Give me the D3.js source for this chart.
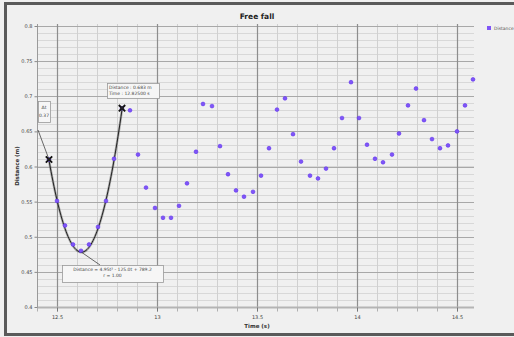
<!DOCTYPE html>
<html><head><meta charset="utf-8">
<script src="https://cdn.jsdelivr.net/npm/d3@7"></script>
<style>html,body{margin:0;padding:0;background:#f0f0f0;}svg{display:block;}</style>
</head><body>
<svg id="c" width="514" height="337"></svg>
<script>
const times = [12.46,12.50,12.54,12.58,12.62,12.66,12.705,12.745,12.785,12.825,12.865,12.905,12.945,12.99,13.03,13.07,13.11,13.15,13.195,13.23,13.275,13.315,13.355,13.395,13.435,13.48,13.52,13.56,13.60,13.64,13.68,13.72,13.765,13.805,13.845,13.885,13.925,13.97,14.01,14.05,14.09,14.13,14.175,14.21,14.255,14.295,14.335,14.375,14.415,14.455,14.50,14.54,14.58];
const distances = [0.610,0.551,0.516,0.489,0.480,0.489,0.514,0.551,0.611,0.683,0.680,0.617,0.570,0.541,0.527,0.527,0.544,0.576,0.621,0.689,0.686,0.629,0.589,0.566,0.557,0.564,0.587,0.626,0.681,0.697,0.646,0.607,0.587,0.583,0.597,0.626,0.669,0.720,0.669,0.631,0.611,0.606,0.617,0.647,0.687,0.711,0.666,0.639,0.626,0.630,0.650,0.687,0.724];
const xTickValues = [12.5,13,13.5,14,14.5];
const xTickLabels = ["12.5","13","13.5","14","14.5"];
const yTickValues = [0.4,0.45,0.5,0.55,0.6,0.65,0.7,0.75,0.8];
const yTickLabels = ["0.4","0.45","0.5","0.55","0.6","0.65","0.7","0.75","0.8"];
const fitVertex = [12.6225, 0.478];
const fitA = [4.95];
const fitRange = [12.46, 12.825];
const fitText = ["Distance = 4.95t² - 125.0t + 789.2", "r = 1.00"];
const readoutText = ["Distance : 0.683 m", "Time : 12.82500 s"];
const deltaText = ["Δt", "0.37"];

const svg = d3.select("#c");
const L=37,R=474,T=26,B=307;
const x = d3.scaleLinear().domain([12.4,14.585]).range([L,R]);
const y = d3.scaleLinear().domain([0.4,0.8]).range([B,T]);

svg.append("rect").attr("x",0).attr("y",0).attr("width",514).attr("height",337).attr("fill","#f0f0f0");
svg.append("path").attr("d","M514,3.5 L5.5,3.5 L5.5,334.5 L514,334.5").attr("fill","none").attr("stroke","#5a5a5a").attr("stroke-width",3);

const g = svg.append("g");
const yMinor = d3.range(0.4,0.8001,0.01);
g.selectAll(".ym").data(yMinor).join("line").attr("x1",L).attr("x2",R).attr("y1",d=>Math.round(y(d))+0.5).attr("y2",d=>Math.round(y(d))+0.5).attr("stroke","#d8d8d8").attr("stroke-width",1);
const xMinor = d3.range(12.4,14.5801,0.1);
g.selectAll(".xm").data(xMinor).join("line").attr("y1",T-2).attr("y2",B).attr("x1",d=>Math.round(x(d))+0.5).attr("x2",d=>Math.round(x(d))+0.5).attr("stroke","#d0d0d0").attr("stroke-width",1);
g.selectAll(".yM").data(yTickValues).join("line").attr("x1",L).attr("x2",R).attr("y1",d=>Math.round(y(d))+0.5).attr("y2",d=>Math.round(y(d))+0.5).attr("stroke","#a8a8a8").attr("stroke-width",1);
g.selectAll(".xM").data(xTickValues).join("line").attr("y1",T-2).attr("y2",B).attr("x1",d=>Math.round(x(d))+0.5).attr("x2",d=>Math.round(x(d))+0.5).attr("stroke","#8e8e8e").attr("stroke-width",1.2);

const xAxis = d3.axisBottom(x).tickValues(xMinor).tickSize(4).tickFormat("");
svg.append("g").attr("transform",`translate(0,${B+0.5})`).call(xAxis).call(s=>{s.select(".domain").attr("stroke","#b4b4b4").attr("stroke-width",2).attr("d",`M${L},0H${R}`);s.selectAll(".tick line").attr("stroke","#b0b0b0");});
svg.append("g").attr("transform",`translate(0,${B+0.5})`).call(d3.axisBottom(x).tickValues(xTickValues).tickSize(4).tickFormat((d,i)=>xTickLabels[i])).call(s=>{s.select(".domain").remove();s.selectAll(".tick line").attr("stroke","#777");s.selectAll("text").attr("font-family","DejaVu Sans").attr("font-size",5).attr("fill","#444").attr("dy","0.9em");});
svg.append("g").attr("transform",`translate(${L+0.5},0)`).call(d3.axisLeft(y).tickValues(yTickValues).tickSize(3).tickFormat((d,i)=>yTickLabels[i])).call(s=>{s.select(".domain").attr("stroke","#9a9a9a").attr("d",`M0,${T-2}V${B}`);s.selectAll(".tick line").attr("stroke","#888");s.selectAll("text").attr("font-family","DejaVu Sans").attr("font-size",5).attr("fill","#444").attr("x",-5);});

svg.append("text").attr("x",257).attr("y",19).attr("text-anchor","middle").attr("font-family","DejaVu Sans").attr("font-weight","bold").attr("font-size",7.5).attr("fill","#222").text("Free fall");
svg.append("text").attr("x",257).attr("y",328).attr("text-anchor","middle").attr("font-family","DejaVu Sans").attr("font-weight","bold").attr("font-size",5.5).attr("fill","#333").text("Time (s)");
svg.append("text").attr("transform","translate(19,166) rotate(-90)").attr("text-anchor","middle").attr("font-family","DejaVu Sans").attr("font-weight","bold").attr("font-size",5.5).attr("fill","#333").text("Distance (m)");

svg.append("rect").attr("x",487).attr("y",26).attr("width",4).attr("height",4).attr("fill","#7f55f7");
svg.append("text").attr("x",494).attr("y",30).attr("font-family","DejaVu Sans").attr("font-size",4.5).attr("fill","#555").text("Distance");

const fitT = d3.range(fitRange[0],fitRange[1]+0.0001,0.005);
const line = d3.line().x(d=>x(d)).y(d=>y(fitA[0]*(d-fitVertex[0])**2+fitVertex[1]));
svg.append("path").datum(fitT).attr("d",line).attr("fill","none").attr("stroke","#666").attr("stroke-width",2.4).attr("opacity",0.5);
svg.append("path").datum(fitT).attr("d",line).attr("fill","none").attr("stroke","#222").attr("stroke-width",1);

svg.selectAll(".pt").data(times.map((t,i)=>[t,distances[i]])).join("circle").attr("cx",d=>x(d[0])).attr("cy",d=>y(d[1])).attr("r",1.9).attr("fill","#7f55f7").attr("stroke","#5e30ee").attr("stroke-width",0.6);

function xMark(px,py){
  const s=3.2;
  svg.append("path").attr("d",`M${px-s},${py-s}L${px+s},${py+s}M${px+s},${py-s}L${px-s},${py+s}`).attr("stroke","#111").attr("stroke-width",1.8);
  svg.append("rect").attr("x",px-1.5).attr("y",py-1.5).attr("width",3).attr("height",3).attr("fill","#222");
}
const p1=[x(times[0]),y(distances[0])], p2=[x(times[9]),y(distances[9])];
svg.append("line").attr("x1",L+1).attr("y1",130).attr("x2",p1[0]).attr("y2",p1[1]).attr("stroke","#444").attr("stroke-width",0.8);
const vx=x(fitVertex[0]), vy=y(fitVertex[1]);
svg.append("line").attr("x1",vx).attr("y1",vy).attr("x2",100).attr("y2",265).attr("stroke","#444").attr("stroke-width",0.8);
xMark(p1[0],p1[1]); xMark(p2[0],p2[1]);

function box(bx,by,w,h,lines,anchor){
  svg.append("rect").attr("x",bx+0.5).attr("y",by+0.5).attr("width",w).attr("height",h).attr("fill","#f6f6f6").attr("stroke","#999").attr("stroke-width",0.8);
  lines.forEach((t,i)=>{
    svg.append("text").attr("x",anchor==="middle"?bx+w/2:bx+2).attr("y",by+5.5+i*6.5).attr("text-anchor",anchor).attr("font-family","DejaVu Sans").attr("font-size",4.5).attr("fill","#444").text(t);
  });
}
box(107,83,52,15,readoutText,"start");
box(38,101,12,21,[],"start");
svg.append("text").attr("x",44).attr("y",109).attr("text-anchor","middle").attr("font-family","DejaVu Sans").attr("font-size",4.5).attr("fill","#444").text(deltaText[0]);
svg.append("text").attr("x",44).attr("y",117).attr("text-anchor","middle").attr("font-family","DejaVu Sans").attr("font-size",4.5).attr("fill","#444").text(deltaText[1]);
box(62,265,101,17,fitText,"middle");
</script>
</body></html>
